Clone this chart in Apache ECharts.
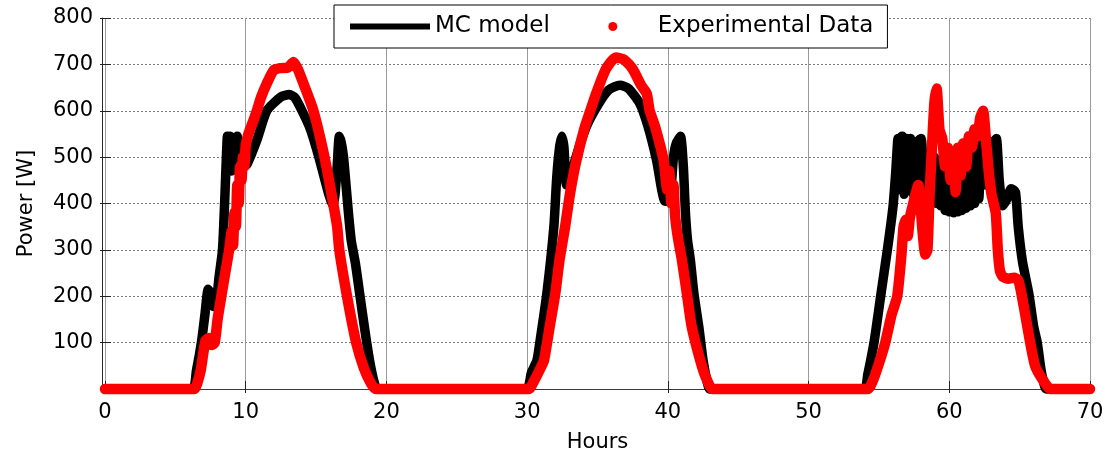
<!DOCTYPE html>
<html>
<head>
<meta charset="utf-8">
<script src="https://cdn.jsdelivr.net/npm/echarts@6/dist/echarts.min.js"></script>
<style>
  html, body { margin: 0; padding: 0; background: #fff; }
  #chart { width: 1106px; height: 454px; }
</style>
</head>
<body>
<div id="chart"></div>
<script>
// ---- data ----
const seriesNames = ['MC model', 'Experimental Data'];
const xTickValues = [0, 10, 20, 30, 40, 50, 60, 70];
const yTickValues = [100, 200, 300, 400, 500, 600, 700, 800];

const mcHours = [
  0, 6.2, 6.5, 6.85, 7.1, 7.33, 7.5, 7.7, 7.9, 8.1, 8.35, 8.5, 8.6, 8.7, 8.8, 8.9, 9.0, 9.1, 9.25, 9.4, 9.55, 9.7, 9.85,
  10.1, 10.8, 11.5, 12.5, 13.1, 13.5, 14.0, 14.6, 15.2, 15.9, 16.2, 16.35, 16.5, 16.65, 16.8, 16.95, 17.1, 17.3, 17.5,
  17.8, 18.1, 18.5, 18.8, 19.1, 19.35,
  29.95, 30.3, 30.7, 30.9, 31.4, 31.9, 32.1, 32.3, 32.47, 32.62, 32.8, 33.1, 33.4, 34.2, 35.1, 35.8, 36.6, 37.2, 38.0,
  38.6, 39.2, 39.8, 40.1, 40.4, 40.6, 40.9, 41.1, 41.25, 41.4, 41.6, 41.85, 42.2, 42.5, 42.8, 43.0,
  53.95, 54.2, 54.65, 55.15, 55.6, 56.0, 56.2, 56.35, 56.5, 56.65, 56.8, 56.95, 57.1, 57.25, 57.45, 57.65, 57.8, 58.0,
  58.2, 58.35, 58.5, 58.65, 58.8, 58.95, 59.1, 59.25, 59.4, 59.55, 59.7, 59.85, 60.0, 60.15, 60.3, 60.45, 60.6, 60.75,
  60.9, 61.05, 61.2, 61.35, 61.5, 61.65, 61.8, 61.95, 62.1, 62.25, 62.45, 62.6, 62.75, 62.95, 63.2,
  63.35, 63.55, 63.8, 64.1, 64.4, 64.7, 64.9, 65.2, 65.65, 66.0, 66.25, 66.5, 66.7, 66.9, 70
];
const mcPower = [
  0, 0, 40, 100, 160, 215, 205, 178, 185, 240, 300, 400, 480, 545, 480, 545, 470, 540, 480, 545, 470, 520, 480,
  485, 537, 600, 630, 635, 628, 600, 560, 500, 420, 395, 420, 480, 545, 530, 500, 450, 380, 320,
  270, 205, 120, 62, 18, 0,
  0, 35, 62, 100, 206, 350, 455, 520, 545, 520, 440, 455, 493, 565, 616, 645, 655, 648, 616,
  565, 493, 405, 405, 500, 530, 545, 480, 380, 320, 278, 206, 134, 62, 15, 0,
  0, 30, 100, 206, 300, 393, 470, 540, 430, 545, 420, 540, 470, 540, 420, 440, 535, 540,
  450, 500, 420, 510, 410, 500, 400, 490, 395, 480, 385, 470, 382, 470, 380, 465, 382, 470,
  385, 480, 390, 490, 395, 500, 400, 510, 410, 520, 540, 440, 470, 450, 535,
  540, 450, 395, 410, 432, 425, 350, 275, 206, 134, 100, 45, 15, 0, 0
];

const expHours = [
  0, 6.35, 6.55, 6.8, 7.0, 7.15, 7.4, 7.6, 7.8, 8.0, 8.3, 8.6, 8.85, 9.0, 9.1, 9.2, 9.3, 9.4, 9.5, 9.6, 9.7, 9.8, 9.9,
  10.0, 10.2, 10.5, 10.8, 11.1, 11.5, 12.0, 12.5, 13.0, 13.4, 13.7, 14.1, 14.8, 15.6, 16.1, 16.5, 16.65, 17.2, 17.85,
  18.4, 18.9, 19.25,
  30.1, 30.5, 31.0, 31.2, 31.6, 32.0, 32.3, 32.7, 33.05, 33.5, 34.1, 34.5, 34.9, 35.6, 36.3, 36.9, 37.5, 38.1, 38.5,
  38.7, 39.1, 39.7, 39.95, 40.1, 40.25, 40.4, 40.5, 40.6, 40.75, 41.0, 41.35, 41.7, 42.3, 42.7, 43.2,
  54.2, 54.6, 55.0, 55.45, 55.9, 56.3, 56.6, 56.75, 56.9, 57.05, 57.2, 57.4, 57.6, 57.8, 57.95, 58.1, 58.3, 58.45,
  58.6, 58.8, 58.95, 59.1, 59.3, 59.5, 59.7, 59.9, 60.1, 60.3, 60.45, 60.6, 60.8, 61.0, 61.2, 61.4, 61.6, 61.8, 62.0,
  62.2, 62.4, 62.6, 62.8, 63.0, 63.3, 63.45, 63.6, 63.8, 64.2, 64.6, 64.9, 65.1, 65.4, 65.75, 66.1, 66.6, 67.2, 70
];
const expPower = [
  0, 0, 12, 40, 80, 105, 110, 95, 100, 150, 206, 260, 305, 340, 310, 380, 350, 440, 400, 480, 450, 500, 480,
  525, 551, 575, 601, 630, 659, 688, 692, 693, 705, 690, 659, 601, 500, 420, 350, 300, 200, 100,
  45, 12, 0,
  0, 18, 48, 62, 134, 206, 278, 350, 422, 493, 565, 601, 637, 690, 715, 710, 690, 655, 637,
  601, 565, 493, 430, 470, 400, 440, 380, 350, 320, 278, 206, 134, 62, 25, 0,
  0, 20, 55, 100, 160, 200, 290, 350, 365, 330, 370, 395, 420, 440, 400, 340, 290, 300,
  420, 540, 620, 648, 560, 540, 480, 520, 450, 500, 425, 520, 460, 530, 480, 545, 520, 560, 545,
  585, 600, 540, 470, 420, 380, 300, 255, 242, 238, 240, 235, 210, 160, 100, 50, 22, 0, 0
];

// ---- build ----
const zip = (xs, ys) => xs.map((x, i) => [x, ys[i]]);
const FONT = 'DejaVu Sans';

const chart = echarts.init(document.getElementById('chart'), null, { renderer: 'canvas' });
const xMin = xTickValues[0], xMax = xTickValues[xTickValues.length - 1];
const xStep = xTickValues[1] - xTickValues[0];
const yStep = yTickValues[1] - yTickValues[0];
const yMax = yTickValues[yTickValues.length - 1];

// legend icons: 80x10 boxes (invisible move-to corners fix the box size)
const ICON_LINE = 'path://M0,0M80,10M0,2H80V8H0Z';
const ICON_DOT = 'path://M0,0M80,10M35.5,5A4.5,4.5 0 1,0 44.5,5A4.5,4.5 0 1,0 35.5,5Z';

const option = {
  animation: false,
  backgroundColor: '#ffffff',
  grid: { left: 105, right: 16, top: 18, bottom: 65, containLabel: false, outerBoundsMode: 'none' },
  legend: {
    left: 334, top: 5,
    orient: 'horizontal',
    padding: [10, 14, 10, 16],
    itemGap: 23,
    itemWidth: 80, itemHeight: 10,
    backgroundColor: '#ffffff',
    borderColor: '#000000', borderWidth: 1,
    itemStyle: { borderWidth: 0 },
    textStyle: { fontFamily: FONT, fontSize: 23, color: '#000', lineHeight: 23 },
    data: [
      { name: seriesNames[0], icon: ICON_LINE },
      { name: seriesNames[1], icon: ICON_DOT }
    ]
  },
  xAxis: [{
    type: 'value', min: xMin, max: xMax, interval: xStep,
    name: 'Hours', nameLocation: 'middle', nameGap: 43,
    nameTextStyle: { fontFamily: FONT, fontSize: 21, color: '#000' },
    axisLine: { show: true, onZero: false, lineStyle: { color: '#3a3a3a', width: 1 } },
    axisTick: { show: true, inside: true, length: 8, lineStyle: { color: '#222' } },
    axisLabel: { fontFamily: FONT, fontSize: 21, color: '#000', margin: 13 },
    splitLine: { show: true, lineStyle: { color: '#9a9a9a', width: 1, type: 'solid' } }
  }, {
    type: 'value', position: 'top', min: xMin, max: xMax, interval: xStep,
    axisLine: { show: false }, axisLabel: { show: false }, splitLine: { show: false },
    axisTick: { show: true, inside: true, length: 4, lineStyle: { color: '#222' } }
  }],
  yAxis: [{
    type: 'value', min: 0, max: yMax, interval: yStep, offset: 3,
    name: 'Power [W]', nameLocation: 'middle', nameGap: 65,
    nameTextStyle: { fontFamily: FONT, fontSize: 21, color: '#000' },
    axisLine: { show: true, onZero: false, lineStyle: { color: '#2a2a2a', width: 1 } },
    axisTick: { show: true, inside: true, length: 9, lineStyle: { color: '#222' } },
    axisLabel: {
      fontFamily: FONT, fontSize: 21, color: '#000', margin: 9,
      formatter: v => (yTickValues.indexOf(v) >= 0 ? String(v) : '')
    },
    splitLine: { show: true, lineStyle: { color: '#7a7a7a', width: 1, type: [2, 2] } }
  }, {
    type: 'value', position: 'right', min: 0, max: yMax, interval: yStep,
    axisLine: { show: false }, axisLabel: { show: false }, splitLine: { show: false },
    axisTick: { show: true, inside: true, length: 5, lineStyle: { color: '#222' } }
  }],
  series: [{
    name: seriesNames[0], type: 'line', xAxisIndex: 0, yAxisIndex: 0,
    data: zip(mcHours, mcPower),
    showSymbol: false, symbol: 'none', clip: false, z: 2, smooth: 0.2,
    itemStyle: { color: '#000000' },
    lineStyle: { color: '#000000', width: 9.5, cap: 'round', join: 'round' }
  }, {
    name: seriesNames[1], type: 'line', xAxisIndex: 0, yAxisIndex: 0,
    data: zip(expHours, expPower),
    showSymbol: false, symbol: 'none', clip: false, z: 3, smooth: 0.2,
    itemStyle: { color: '#ff0000' },
    lineStyle: { color: '#ff0000', width: 10.5, cap: 'round', join: 'round' }
  }]
};
chart.setOption(option);
</script>
</body>
</html>
